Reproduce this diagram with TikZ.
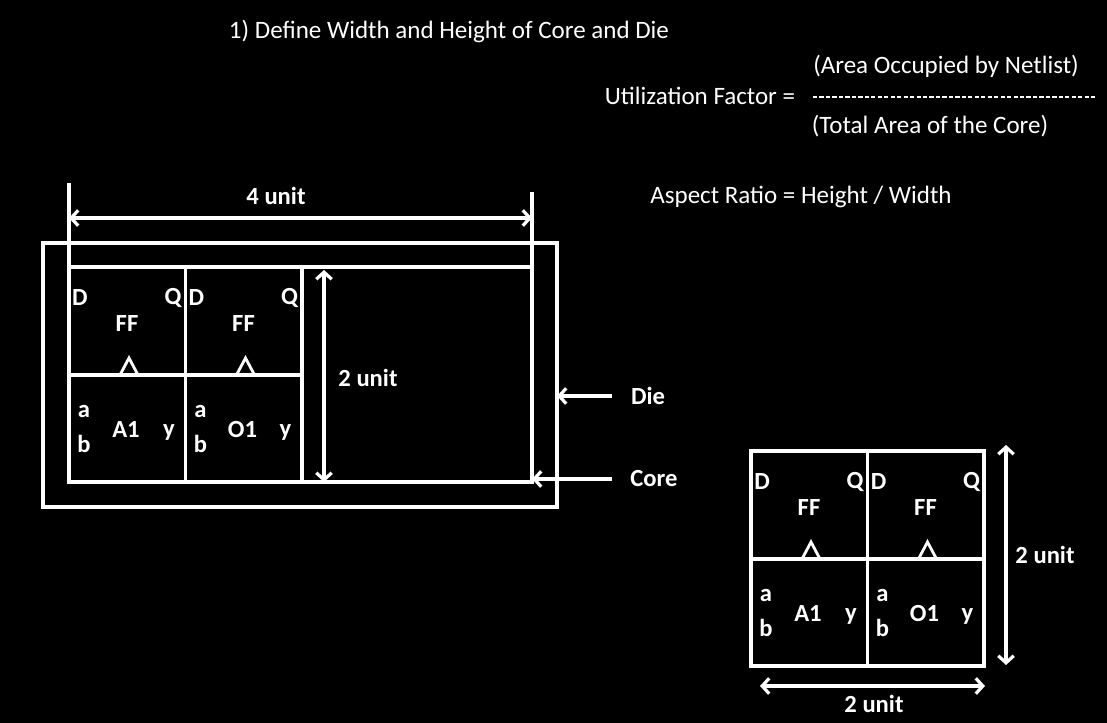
\documentclass[tikz,border=0pt]{standalone}
\usepackage{fontspec}
\setmainfont{Carlito}
\usetikzlibrary{
  arrows.meta,   % Straight Barb arrow tips
  positioning    % relative placement
}

\begin{document}
\begin{tikzpicture}[x=0.025cm, y=-0.025cm, line width=2.3pt, white,
  dim/.style={{Straight Barb[length=5pt,width=11pt]}-{Straight Barb[length=5pt,width=11pt]}},
  pointer/.style={-{Straight Barb[length=5pt,width=11pt]}},
  lbl/.style={font=\bfseries\fontsize{17.5}{20}\selectfont, inner sep=0pt},
  txt/.style={font=\fontsize{17.8}{20}\selectfont, inner sep=0pt}]

  % black background, fixes the margins
  \fill[black] (0,0) rectangle (1107,723);
  \useasboundingbox (0,0) rectangle (1107,723);

  % =========== headings and formulas ===========
  \node[txt] (title) at (449,31) {1) Define Width and Height of Core and Die};
  \node[txt] (uf) at (700,96) {Utilization Factor =};
  \node[txt] (num) at (946,66) {(Area Occupied by Netlist)};
  \node[txt] (den) at (930,126) {(Total Area of the Core)};
  \coordinate (barL) at (813,97);
  \coordinate (barR) at (1095,97);
  \draw[line width=1.2pt, dash pattern=on 3pt off 1.6pt] (barL) -- (barR);
  \node[txt] (ar) at (801,197) {Aspect Ratio = Height / Width};

  % =========== die and core ===========
  \draw (43,243) rectangle (557,507);   % die
  \draw (69,267) rectangle (532,482);   % core
  \coordinate (coreNW) at (69,267);
  \coordinate (coreNE) at (532,267);
  \coordinate (extL) at (69,183);
  \coordinate (extR) at (532,192);
  \draw (extL) -- (coreNW);
  \draw (extR) -- (coreNE);

  % width of the core: 4 unit
  \coordinate (wL) at (69,218);
  \coordinate (wR) at (532,218);
  \draw[dim] (wL) -- (wR);
  \node[lbl] (w4) at (276,196) {4 unit};

  % height of the core: 2 unit
  \coordinate (hT) at (324,270);
  \coordinate (hB) at (324,482);
  \draw[dim] (hT) -- (hB);
  \node[lbl] (h2) at (368,378) {2 unit};

  % pointers to die and core
  \node[lbl] (die) at (648,396) {Die};
  \node[lbl] (core) at (654,479) {Core};
  \coordinate (dieTail) at (612,396);
  \coordinate (dieEdge) at (557,396);
  \coordinate (coreTail) at (612,479);
  \coordinate (coreEdge) at (532,479);
  \draw[pointer] (dieTail) -- (dieEdge);
  \draw[pointer] (coreTail) -- (coreEdge);

  % =========== the four cells, in the core and on their own ===========
  \foreach \bx/\by/\b in {69/267/L, 751/451/R} {
    \begin{scope}[shift={(\bx,\by)}]
      \draw (0,0) rectangle (233,215);
      \draw (116.5,0) -- (116.5,215);
      \draw (0,108) -- (233,108);
      \foreach \c/\g in {0/A1, 1/O1} {
        \begin{scope}[shift={(\c*116.5,0)}]
          % flip-flop
          \node[lbl] (d\b\c) at (11,31) {D};
          \node[lbl] (q\b\c) at (104,31) {Q};
          \node[lbl] (ff\b\c) at (58,57) {FF};
          \draw[line width=2pt] (51,108) -- (60,91) -- (69,108);   % clock
          % gate
          \node[lbl] (a\b\c) at (15,145) {a};
          \node[lbl] (bb\b\c) at (15,177) {b};
          \node[lbl] (g\b\c) at (57,163) {\g};
          \node[lbl] (y\b\c) at (100,165) {y};
        \end{scope}
      }
    \end{scope}
  }

  % dimensions of the cells on their own
  \coordinate (vT) at (1006,445);
  \coordinate (vB) at (1006,665);
  \draw[dim] (vT) -- (vB);
  \node[lbl] (v2) at (1045,555) {2 unit};
  \coordinate (hL) at (760,686);
  \coordinate (hR) at (985,686);
  \draw[dim] (hL) -- (hR);
  \node[lbl] (hh2) at (874,704) {2 unit};

\end{tikzpicture}
\end{document}
